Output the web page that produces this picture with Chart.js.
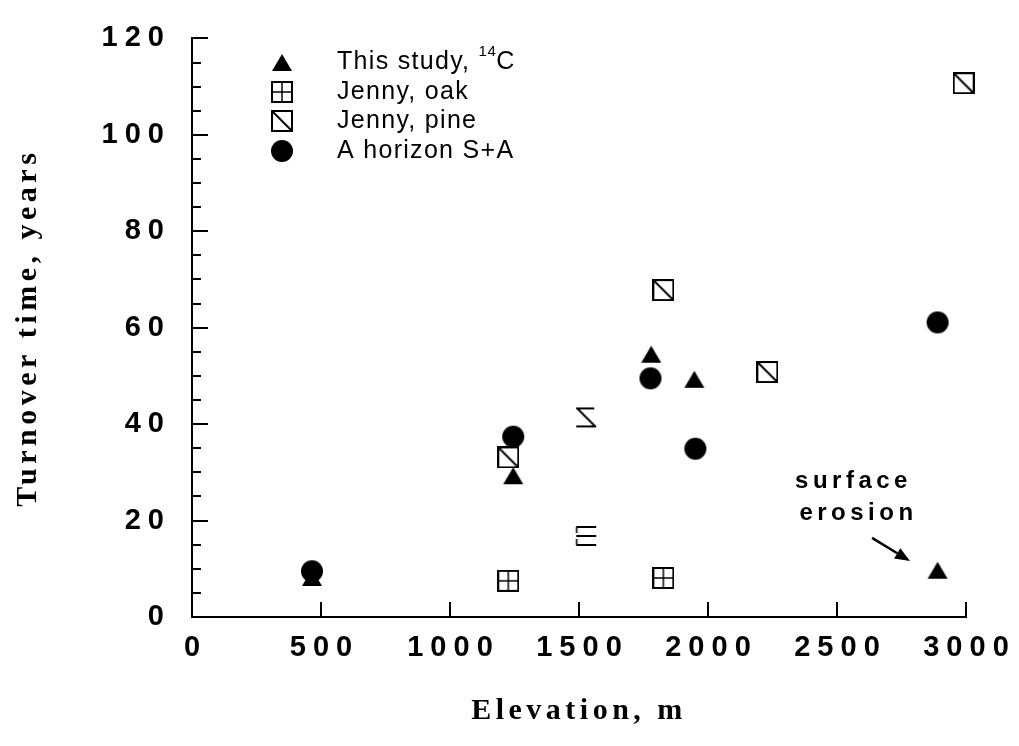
<!DOCTYPE html>
<html>
<head>
<meta charset="utf-8">
<script src="https://cdn.jsdelivr.net/npm/chart.js@4/dist/chart.umd.min.js"></script>
<style>
html,body{margin:0;padding:0;background:#fff;}
#wrap{width:1019px;height:746px;position:relative;background:#fff;}
</style>
</head>
<body>
<div id="wrap"><canvas id="c" width="1019" height="746"></canvas></div>
<script>
// ---- data ----
const xTicks = [0, 500, 1000, 1500, 2000, 2500, 3000];
const yTicks = [0, 20, 40, 60, 80, 100, 120];
const seriesNames = ['This study, ', 'Jenny, oak', 'Jenny, pine', 'A horizon S+A'];
const studyX = [465, 1245, 1780, 1947, 2890];
const studyY = [8.2, 29.3, 54.5, 49.3, 9.7];
const oakX = [1226, 1528, 1827];
const oakY = [7.5, 16.8, 8.1];
const pineX = [1226, 1528, 1827, 2230, 2991];
const pineY = [33.1, 41.4, 67.8, 50.8, 110.7];
const aHorX = [465, 1245, 1777, 1951, 2890];
const aHorY = [9.5, 37.4, 49.5, 34.9, 61.1];
const xTitle = 'Elevation, m';
const yTitle = 'Turnover time, years';
const noteLines = ['surface', 'erosion'];
const noteAt = [2560, 28.2];
const arrowFrom = [2636, 16.4];
const arrowTo = [2783, 11.6];

// ---- marker images ----
function mk(w, h, fn) {
  const c = document.createElement('canvas');
  c.width = w; c.height = h;
  const g = c.getContext('2d');
  g.strokeStyle = '#000'; g.fillStyle = '#000';
  fn(g);
  return c;
}
const triImg = mk(22, 19, g => { g.beginPath(); g.moveTo(1, 18); g.lineTo(21, 18); g.lineTo(11, 1); g.closePath(); g.fill(); });
const dotImg = mk(24, 24, g => { g.beginPath(); g.arc(12, 12, 11, 0, Math.PI * 2); g.fill(); });
const oakImg = mk(22, 22, g => {
  g.lineWidth = 2; g.strokeRect(1, 1, 20, 20);
  g.lineWidth = 1.5; g.beginPath(); g.moveTo(11, 1); g.lineTo(11, 21); g.moveTo(1, 11); g.lineTo(21, 11); g.stroke();
});
const oakPartImg = mk(22, 22, g => {
  g.lineWidth = 2; g.beginPath();
  g.moveTo(1, 2); g.lineTo(21, 2); g.moveTo(1, 11); g.lineTo(21, 11); g.moveTo(1, 20); g.lineTo(21, 20); g.stroke();
  g.lineWidth = 1.5; g.beginPath(); g.moveTo(1.5, 2); g.lineTo(1.5, 8); g.moveTo(1.5, 14); g.lineTo(1.5, 20); g.stroke();
});
const pineImg = mk(22, 22, g => {
  g.lineWidth = 2; g.strokeRect(1, 1, 20, 20);
  g.beginPath(); g.moveTo(2, 2); g.lineTo(20, 20); g.stroke();
});
const pinePartImg = mk(22, 22, g => {
  g.lineWidth = 2; g.beginPath();
  g.moveTo(1, 2); g.lineTo(19, 2); g.moveTo(2, 2); g.lineTo(20, 20); g.moveTo(1, 20); g.lineTo(21, 20); g.stroke();
});
const legendImgs = [triImg, oakImg, pineImg, dotImg];

function pts(xs, ys) { return xs.map((x, i) => ({ x: x, y: ys[i] })); }

const SANS = '"Liberation Sans", Arial, Helvetica, sans-serif';
const SERIF = '"Liberation Serif", "Times New Roman", serif';

const decorPlugin = {
  id: 'decor',
  beforeDraw(chart) { chart.ctx.letterSpacing = '4.5px'; },
  afterDatasetsDraw(chart) { chart.ctx.letterSpacing = '7px'; },
  afterDraw(chart) {
    const ctx = chart.ctx;
    const xs = chart.scales.x, ys = chart.scales.y;
    const ca = chart.chartArea;
    ctx.save();
    ctx.letterSpacing = '0px';
    ctx.strokeStyle = '#000';
    ctx.fillStyle = '#000';
    ctx.lineWidth = 2;
    // inward tick marks
    ctx.beginPath();
    for (let v = 0; v <= 120; v += 5) {
      const py = Math.round(ys.getPixelForValue(v));
      const len = (v % 20 === 0) ? 16 : 9;
      ctx.moveTo(ca.left, py); ctx.lineTo(ca.left + len, py);
    }
    xTicks.forEach(v => {
      if (v === 0) return;
      const px = Math.round(xs.getPixelForValue(v));
      ctx.moveTo(px, ca.bottom); ctx.lineTo(px, ca.bottom - 15);
    });
    ctx.stroke();

    // legend
    const rows = [62, 92, 121, 151];
    const mx = 282, tx = 337;
    ctx.textBaseline = 'alphabetic';
    ctx.textAlign = 'left';
    rows.forEach((ry, i) => {
      const im = legendImgs[i];
      ctx.drawImage(im, Math.round(mx - im.width / 2), Math.round(ry - im.height / 2));
      ctx.letterSpacing = '1.3px';
      ctx.font = '25px ' + SANS;
      ctx.fillText(seriesNames[i], tx, ry + 7);
      if (i === 0) {
        const w = ctx.measureText(seriesNames[i]).width;
        ctx.font = '15px ' + SANS;
        ctx.letterSpacing = '0.5px';
        ctx.fillText('14', tx + w, ry - 6);
        const w2 = ctx.measureText('14').width;
        ctx.font = '25px ' + SANS;
        ctx.letterSpacing = '1.3px';
        ctx.fillText('C', tx + w + w2, ry + 7);
      }
    });

    // annotation
    ctx.font = 'bold 24px ' + SANS;
    ctx.letterSpacing = '4.5px';
    ctx.textAlign = 'center';
    ctx.textBaseline = 'middle';
    const nx = xs.getPixelForValue(noteAt[0]), ny = ys.getPixelForValue(noteAt[1]);
    ctx.fillText(noteLines[0], nx + 1, ny);
    ctx.fillText(noteLines[1], nx + 6, ny + 32);
    // arrow
    const ax1 = xs.getPixelForValue(arrowFrom[0]), ay1 = ys.getPixelForValue(arrowFrom[1]);
    const ax2 = xs.getPixelForValue(arrowTo[0]), ay2 = ys.getPixelForValue(arrowTo[1]);
    const ang = Math.atan2(ay2 - ay1, ax2 - ax1);
    const hl = 15, hw = 6;
    const bx = ax2 - hl * Math.cos(ang), by = ay2 - hl * Math.sin(ang);
    ctx.lineWidth = 2.5;
    ctx.beginPath(); ctx.moveTo(ax1, ay1); ctx.lineTo(bx, by); ctx.stroke();
    ctx.beginPath();
    ctx.moveTo(ax2, ay2);
    ctx.lineTo(bx + hw * Math.sin(ang), by - hw * Math.cos(ang));
    ctx.lineTo(bx - hw * Math.sin(ang), by + hw * Math.cos(ang));
    ctx.closePath(); ctx.fill();
    ctx.restore();
  }
};

const tickFont = { family: SANS, size: 29, weight: 'bold', lineHeight: 1.2 };
const titleFont = { family: SERIF, size: 30, weight: 'bold', lineHeight: 1.2 };
const plain = v => String(v);

new Chart(document.getElementById('c'), {
  type: 'scatter',
  data: {
    datasets: [
      { label: seriesNames[3], data: pts(aHorX, aHorY), pointStyle: dotImg, pointRadius: 11, order: 0, clip: false },
      { label: seriesNames[0] + '14C', data: pts(studyX, studyY), pointStyle: triImg, pointRadius: 10, order: 1, clip: false },
      { label: seriesNames[1], data: pts(oakX, oakY), pointStyle: [oakImg, oakPartImg, oakImg], pointRadius: 10, order: 2, clip: false },
      { label: seriesNames[2], data: pts(pineX, pineY), pointStyle: [pineImg, pinePartImg, pineImg, pineImg, pineImg], pointRadius: 10, order: 3, clip: false }
    ]
  },
  options: {
    responsive: false,
    animation: false,
    events: [],
    layout: { padding: { left: 0, right: 53, top: 26, bottom: 0 }, autoPadding: false },
    plugins: { legend: { display: false }, tooltip: { enabled: false } },
    scales: {
      x: {
        type: 'linear', min: xTicks[0], max: xTicks[xTicks.length - 1],
        afterBuildTicks: s => { s.ticks = xTicks.map(v => ({ value: v })); },
        afterFit: s => { s.height = 129; },
        grid: { display: false, drawTicks: false },
        border: { display: true, color: '#000', width: 2 },
        ticks: { color: '#000', font: tickFont, padding: 14, labelOffset: 3.5, maxRotation: 0, autoSkip: false, z: 1, callback: plain },
        title: { display: true, text: xTitle, color: '#000', font: titleFont, padding: { top: 0, bottom: 17 } }
      },
      y: {
        type: 'linear', min: yTicks[0], max: yTicks[yTicks.length - 1],
        afterBuildTicks: s => { s.ticks = yTicks.map(v => ({ value: v })); },
        afterFit: s => { s.width = 192; },
        grid: { display: false, drawTicks: false },
        border: { display: true, color: '#000', width: 2 },
        ticks: { color: '#000', font: tickFont, padding: 21, autoSkip: false, z: 1, callback: plain },
        title: { display: true, text: yTitle, color: '#000', font: titleFont, padding: { top: 10, bottom: 0 } }
      }
    }
  },
  plugins: [decorPlugin]
});
</script>
</body>
</html>
